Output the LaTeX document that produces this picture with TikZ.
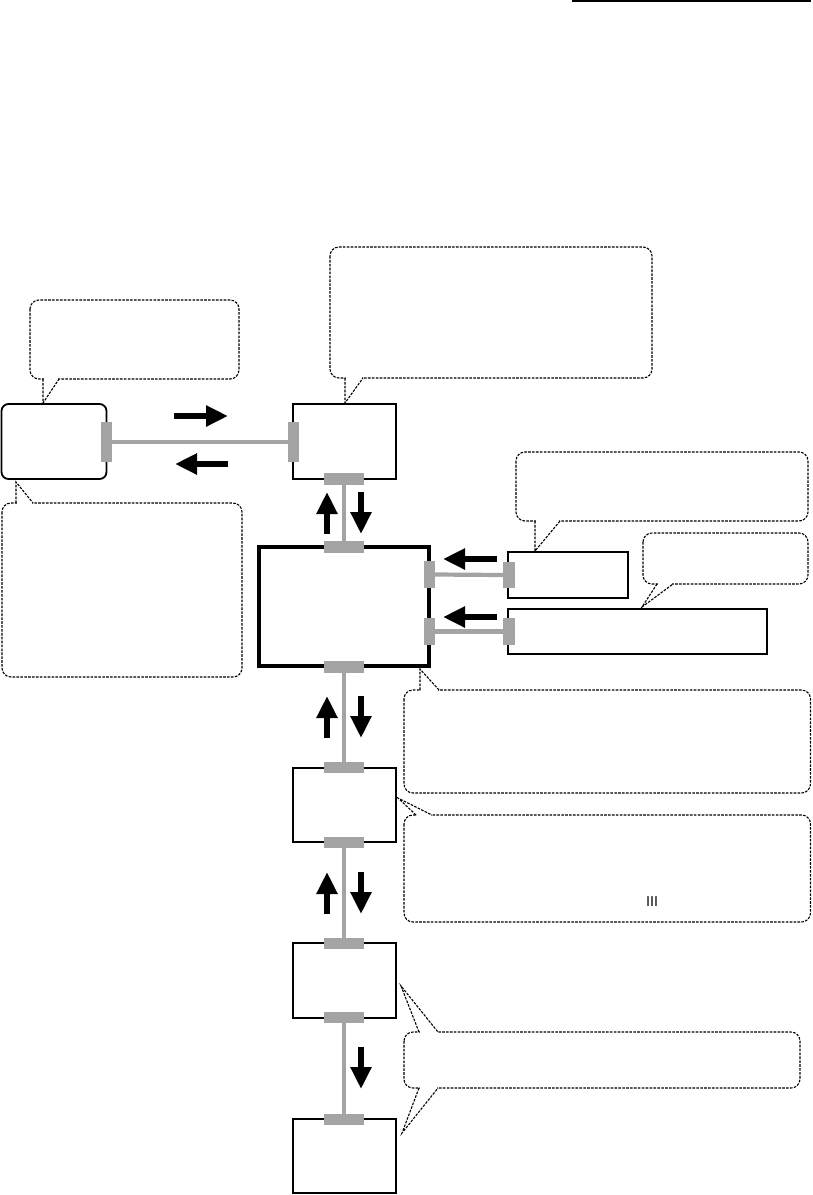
\documentclass[tikz,border=0pt]{standalone}
\usepackage{fontspec}
\newfontfamily\cjk{Noto Sans CJK JP}
\usetikzlibrary{arrows.meta}
\definecolor{tabgray}{RGB}{164,164,164}
\tikzset{
  box/.style={draw=black, line width=1.8pt, inner sep=0pt, fill=white},
  tab/.style={fill=tabgray, draw=none, inner sep=0pt},
  conn/.style={draw=tabgray, line width=4.2pt},
  fat/.style={line width=6.5pt, -{Triangle[length=22pt,width=20pt]}},
  callout/.style={draw=black, line width=1.1pt, dash pattern=on 2.6pt off 1.3pt, rounded corners=9pt},
  ptr/.style={draw=black, line width=1.1pt, dash pattern=on 2.6pt off 1.3pt},
}
\begin{document}
\begin{tikzpicture}[x=1pt,y=-1pt]
\useasboundingbox (0,0) rectangle (813,1195);
\fill[white] (0,0) rectangle (813,1195);

% top-right rule
\draw[line width=1.5pt] (572,1) coordinate (r1) -- (811,1) coordinate (r2);

% ---- callouts ----
% top-left
\draw[callout] (30,300) rectangle (239,379);
\fill[white] (43.7,377.3) rectangle (58.3,380.7);
\draw[ptr] (43,379) -- (43,403) -- (59,379);
% top-middle
\draw[callout] (330,247) rectangle (652,378);
\fill[white] (345.7,376.3) rectangle (362.3,379.7);
\draw[ptr] (345,378) -- (345,403) -- (363,378);
% bottom-left
\draw[callout] (2,503) rectangle (242,677);
\fill[white] (16.7,501.3) rectangle (32.3,504.7);
\draw[ptr] (16,503) -- (16,482) -- (33,503);
% top-right
\draw[callout] (516,452) rectangle (808,521);
\fill[white] (535.7,519.3) rectangle (559.3,522.7);
\draw[ptr] (535,521) -- (535,551) -- (560,521);
% small right
\draw[callout] (643,533) rectangle (808,584);
\fill[white] (657.7,582.3) rectangle (672.3,585.7);
\draw[ptr] (657,584) -- (642,607) -- (673,584);
% C1
\draw[callout] (404,690) rectangle (810.5,793);
\fill[white] (420.7,688.3) rectangle (438.3,691.7);
\draw[ptr] (420,690) -- (420,669) -- (439,690);
% C2
\draw[callout] (404,815) rectangle (810.5,922);
\fill[white] (416.7,813.3) rectangle (431.3,816.7);
\draw[ptr] (416,815) -- (398,798) -- (432,815);
\node[inner sep=0pt, font=\cjk\fontsize{13.5}{13.5}\selectfont] (roman) at (652,901.5) {Ⅲ};
% C3
\draw[callout] (404,1032) rectangle (800,1088);
\fill[white] (419.7,1030.3) rectangle (437.3,1033.7);
\fill[white] (419.7,1086.3) rectangle (437.3,1089.7);
\draw[ptr] (419,1032) -- (401,986) -- (438,1032);
\draw[ptr] (419,1088) -- (402,1133) -- (438,1088);

% ---- boxes ----
\node[box, rounded corners=7pt, minimum width=105pt, minimum height=75pt] (bL) at (54,441.5) {};
\node[box, minimum width=103pt, minimum height=75pt] (b2) at (344.5,441.5) {};
\node[box, line width=4.3pt, minimum width=170pt, minimum height=119pt] (bM) at (344,606.5) {};
\node[box, line width=1.6pt, minimum width=120pt, minimum height=46pt] (bA) at (568,575) {};
\node[box, line width=1.6pt, minimum width=259pt, minimum height=45pt] (bB) at (637.5,631.5) {};
\node[box, line width=1.6pt, minimum width=103pt, minimum height=74pt] (b3) at (344.5,805) {};
\node[box, line width=1.6pt, minimum width=103pt, minimum height=75pt] (b4) at (344.5,980.5) {};
\node[box, line width=1.6pt, minimum width=103pt, minimum height=74pt] (b5) at (344.5,1156) {};

% ---- tabs ----
\node[tab, minimum width=11pt, minimum height=40pt] (tL) at (106.5,442) {};
\node[tab, minimum width=11pt, minimum height=40pt] (t2w) at (293.5,442) {};
\node[tab, minimum width=40pt, minimum height=12pt] (t2s) at (344,479) {};
\node[tab, minimum width=40pt, minimum height=12pt] (tMn) at (344,547) {};
\node[tab, minimum width=11pt, minimum height=27pt] (tMe1) at (429.5,574.5) {};
\node[tab, minimum width=11pt, minimum height=27pt] (tMe2) at (429.5,631.5) {};
\node[tab, minimum width=12pt, minimum height=26pt] (tA) at (509,575) {};
\node[tab, minimum width=12pt, minimum height=27pt] (tB) at (509,631.5) {};
\node[tab, minimum width=40pt, minimum height=12pt] (tMs) at (344,667) {};
\node[tab, minimum width=40pt, minimum height=11pt] (t3n) at (344,767.5) {};
\node[tab, minimum width=40pt, minimum height=11pt] (t3s) at (344,842.5) {};
\node[tab, minimum width=40pt, minimum height=11pt] (t4n) at (344,943.5) {};
\node[tab, minimum width=40pt, minimum height=11pt] (t4s) at (344,1017.5) {};
\node[tab, minimum width=40pt, minimum height=11pt] (t5n) at (344,1119.5) {};

% ---- connectors ----
\draw[conn] (tL.east) -- (t2w.west);
\draw[conn] (t2s.south) -- (tMn.north);
\draw[conn] (tMe1.east) -- (tA.west);
\draw[conn] (tMe2.east) -- (tB.west);
\draw[conn] (tMs.south) -- (t3n.north);
\draw[conn] (t3s.south) -- (t4n.north);
\draw[conn] (t4s.south) -- (t5n.north);

% ---- flow arrows ----
\draw[fat] (174,416) -- (228,416);
\draw[fat] (228,464) -- (175,464);
\draw[fat] (327,534) -- (327,492);
\draw[fat] (361,492) -- (361,534);
\draw[fat] (497,559) -- (443,559);
\draw[fat] (497,617) -- (443,617);
\draw[fat] (327,738) -- (327,696);
\draw[fat] (361,696) -- (361,738);
\draw[fat] (327,914) -- (327,872);
\draw[fat] (361,872) -- (361,914);
\draw[fat] (361,1047) -- (361,1089);
\end{tikzpicture}
\end{document}
